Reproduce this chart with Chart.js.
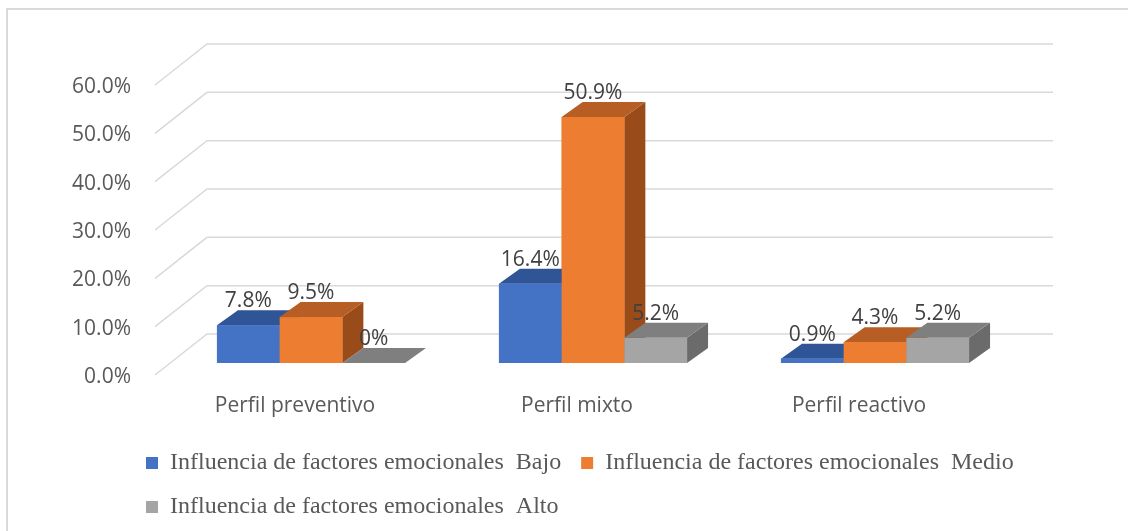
<!DOCTYPE html>
<html>
<head>
<meta charset="utf-8">
<script src="https://cdn.jsdelivr.net/npm/chart.js@4.4.1/dist/chart.umd.min.js"></script>
<style>
  html, body { margin: 0; padding: 0; background: #fff; }
</style>
</head>
<body>
<canvas id="chart" width="1128" height="531"></canvas>
<script>
const categories = ['Perfil preventivo', 'Perfil mixto', 'Perfil reactivo'];
const seriesNames = [
  'Influencia de factores emocionales  Bajo',
  'Influencia de factores emocionales  Medio',
  'Influencia de factores emocionales  Alto'
];
const bajo = [7.8, 16.4, 0.9];
const medio = [9.5, 50.9, 4.3];
const alto = [0, 5.2, 5.2];
const yTicks = [0, 10, 20, 30, 40, 50, 60];

const frontColors = ['#4472C4', '#ED7D31', '#A5A5A5'];
const topColors = ['#2F5597', '#B65E23', '#7F7F7F'];
const sideColors = ['#264478', '#994C1A', '#6B6B6B'];

// depth of the boxes, and where the walls sit relative to the bars
const DX = 21, DY = 15;
const WALL_BACK = [37, -29], WALL_FRONT = [-15, 12];
const LEGEND_LEFT = 126;

function poly(ctx, pts) {
  ctx.beginPath();
  ctx.moveTo(pts[0][0], pts[0][1]);
  for (let i = 1; i < pts.length; i++) ctx.lineTo(pts[i][0], pts[i][1]);
  ctx.closePath();
  ctx.fill();
}

const frame = {
  id: 'frame',
  afterLayout(chart) {
    // legend rows start a bit in from the left edge
    chart.legend.left = LEGEND_LEFT;
  },
  beforeDraw(chart) {
    const ctx = chart.ctx;
    ctx.save();
    ctx.strokeStyle = '#D9D9D9';
    ctx.lineWidth = 2;
    ctx.strokeRect(7, 9, 1300, 700);
    ctx.restore();
  }
};

const walls = {
  id: 'walls',
  beforeDatasetsDraw(chart) {
    const ctx = chart.ctx, a = chart.chartArea, y = chart.scales.y;
    ctx.save();
    ctx.strokeStyle = '#D9D9D9';
    ctx.lineWidth = 1.5;
    yTicks.forEach(v => {
      const py = y.getPixelForValue(v);
      ctx.beginPath();
      ctx.moveTo(a.left + WALL_FRONT[0], py + WALL_FRONT[1]);
      ctx.lineTo(a.left + WALL_BACK[0], py + WALL_BACK[1]);
      ctx.lineTo(a.right + WALL_BACK[0], py + WALL_BACK[1]);
      ctx.stroke();
    });
    ctx.restore();
  }
};

const boxes = {
  id: 'boxes',
  afterDatasetsDraw(chart) {
    const ctx = chart.ctx;
    const metas = chart.data.datasets.map((d, i) => chart.getDatasetMeta(i));
    ctx.save();
    for (let c = 0; c < categories.length; c++) {
      metas.forEach((meta, d) => {
        const p = meta.data[c].getProps(['x', 'y', 'base', 'width'], true);
        const l = p.x - p.width / 2, r = p.x + p.width / 2;
        ctx.fillStyle = sideColors[d];
        poly(ctx, [[r, p.base], [r + DX, p.base - DY], [r + DX, p.y - DY], [r, p.y]]);
        ctx.fillStyle = topColors[d];
        poly(ctx, [[l, p.y], [r, p.y], [r + DX, p.y - DY], [l + DX, p.y - DY]]);
        ctx.fillStyle = frontColors[d];
        ctx.fillRect(l, p.y, p.width, p.base - p.y);
      });
    }
    // value labels
    ctx.font = '21px "Open Sans"';
    ctx.fillStyle = '#404040';
    ctx.textAlign = 'center';
    ctx.textBaseline = 'alphabetic';
    metas.forEach((meta, d) => {
      meta.data.forEach((bar, c) => {
        const v = chart.data.datasets[d].data[c];
        const txt = v === 0 ? '0%' : v.toFixed(1) + '%';
        ctx.fillText(txt, bar.x, bar.y - DY - 3);
      });
    });
    ctx.restore();
  }
};

new Chart(document.getElementById('chart'), {
  type: 'bar',
  data: {
    labels: categories,
    datasets: [
      { label: seriesNames[0], data: bajo, backgroundColor: frontColors[0] },
      { label: seriesNames[1], data: medio, backgroundColor: frontColors[1] },
      { label: seriesNames[2], data: alto, backgroundColor: frontColors[2] }
    ]
  },
  options: {
    responsive: false,
    animation: false,
    devicePixelRatio: 1,
    layout: { padding: { left: 0, top: 73, right: 0, bottom: 2 } },
    datasets: { bar: { barPercentage: 1, categoryPercentage: 0.667, borderWidth: 0 } },
    scales: {
      x: {
        grid: { display: false, drawTicks: false },
        border: { display: false },
        ticks: { padding: 30, labelOffset: -16, color: '#595959', font: { family: 'Open Sans', size: 21 } },
        afterFit(s) { s.height = 68; }
      },
      y: {
        min: 0,
        max: 60,
        grid: { display: false, drawTicks: false },
        border: { display: false },
        ticks: {
          stepSize: 10,
          padding: 39,
          labelOffset: 14,
          color: '#595959',
          font: { family: 'Open Sans', size: 21 },
          callback: v => v.toFixed(1) + '%'
        },
        afterFit(s) { s.width = 170; }
      },
      yr: {
        type: 'linear',
        position: 'right',
        grid: { display: false, drawTicks: false },
        border: { display: false },
        ticks: { display: false },
        afterFit(s) { s.width = 112; }
      }
    },
    plugins: {
      legend: {
        position: 'bottom',
        align: 'start',
        labels: {
          boxWidth: 12,
          boxHeight: 12,
          padding: 20,
          color: '#595959',
          font: { family: 'Liberation Serif', size: 24 }
        }
      },
      tooltip: { enabled: false }
    }
  },
  plugins: [frame, walls, boxes]
});
</script>
</body>
</html>
